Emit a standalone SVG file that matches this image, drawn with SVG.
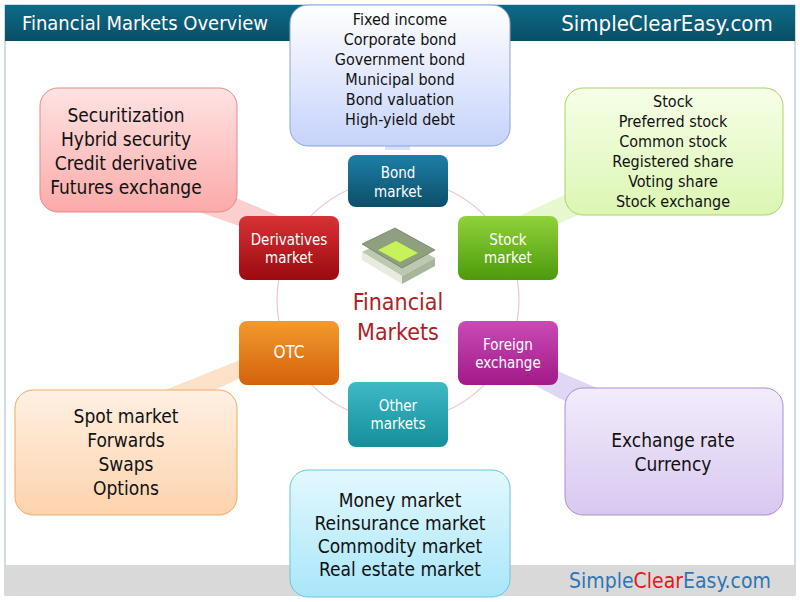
<svg xmlns="http://www.w3.org/2000/svg" width="800" height="602" viewBox="0 0 800 602">
<defs>
<style>
text{font-family:"DejaVu Sans Condensed","Liberation Sans",sans-serif;text-anchor:middle}
.hub{font-size:15px;fill:#fff}
.lst{font-size:16px;fill:#111}
.big{font-size:19px;fill:#111}
</style>
<linearGradient id="gBond" x1="0" y1="0" x2="0" y2="1"><stop offset="0" stop-color="#1d7fa6"/><stop offset="1" stop-color="#0c4e6a"/></linearGradient>
<linearGradient id="gDer" x1="0" y1="0" x2="0" y2="1"><stop offset="0" stop-color="#d83236"/><stop offset="1" stop-color="#9b0a0e"/></linearGradient>
<linearGradient id="gStk" x1="0" y1="0" x2="0" y2="1"><stop offset="0" stop-color="#8fd23a"/><stop offset="1" stop-color="#4d9a0c"/></linearGradient>
<linearGradient id="gOtc" x1="0" y1="0" x2="0" y2="1"><stop offset="0" stop-color="#f39a2e"/><stop offset="1" stop-color="#d4620a"/></linearGradient>
<linearGradient id="gFx" x1="0" y1="0" x2="0" y2="1"><stop offset="0" stop-color="#c94bb5"/><stop offset="1" stop-color="#a11a88"/></linearGradient>
<linearGradient id="gOth" x1="0" y1="0" x2="0" y2="1"><stop offset="0" stop-color="#3fb9c6"/><stop offset="1" stop-color="#168e9c"/></linearGradient>
<linearGradient id="lBond" x1="0" y1="0" x2="0" y2="1"><stop offset="0" stop-color="#fff"/><stop offset="1" stop-color="#c6d3fb"/></linearGradient>
<linearGradient id="lDer" x1="0" y1="0" x2="0" y2="1"><stop offset="0" stop-color="#ffe3e3"/><stop offset="1" stop-color="#fbaaa8"/></linearGradient>
<linearGradient id="lStk" x1="0" y1="0" x2="0" y2="1"><stop offset="0" stop-color="#f6ffe8"/><stop offset="1" stop-color="#dcf6b2"/></linearGradient>
<linearGradient id="lOtc" x1="0" y1="0" x2="0" y2="1"><stop offset="0" stop-color="#fff0e2"/><stop offset="1" stop-color="#fdd3ad"/></linearGradient>
<linearGradient id="lFx" x1="0" y1="0" x2="0" y2="1"><stop offset="0" stop-color="#f2ecfb"/><stop offset="1" stop-color="#d8c8f0"/></linearGradient>
<linearGradient id="lOth" x1="0" y1="0" x2="0" y2="1"><stop offset="0" stop-color="#e3f8fe"/><stop offset="1" stop-color="#a9e6fa"/></linearGradient>
<linearGradient id="hdr" x1="0" y1="0" x2="0" y2="1"><stop offset="0" stop-color="#0e6a87"/><stop offset="1" stop-color="#0a4e66"/></linearGradient>
</defs>
<rect width="800" height="602" fill="#fff"/>
<rect x="5" y="5" width="790" height="590" fill="#fff" stroke="#9fb8cf"/>
<rect x="5" y="5" width="790" height="36" fill="url(#hdr)"/>
<rect x="5" y="565" width="790" height="30" fill="#d9d9d9"/>
<text x="145" y="30" style="font-size:20px;fill:#fff">Financial Markets Overview</text>
<text x="667" y="31" style="font-size:22px;fill:#fff">SimpleClearEasy.com</text>
<text x="670" y="588" style="font-size:21px;fill:#2e75b6">Simple<tspan fill="#e8141b">Clear</tspan>Easy.com</text>

<g id="connectors" opacity="0.55">
<circle cx="398" cy="300" r="121" fill="none" stroke="#d9a0a0" stroke-width="1.2"/>
<polygon points="280,240 300,225 170,170 150,195" fill="#f7a8a8"/>
<polygon points="500,225 520,240 660,180 640,160" fill="#d5f2a8"/>
<polygon points="290,340 280,360 150,420 165,390" fill="#fbc89b"/>
<polygon points="520,355 505,370 640,440 660,415" fill="#c9b5ea"/>
<polygon points="385,150 410,150 410,135 385,135" fill="#b9c8fa"/>
</g>

<g id="list-bond"><rect x="290" y="5" width="220" height="141" rx="18" fill="url(#lBond)" stroke="#8ea3d8"/>
<text class="lst" x="400" y="25">Fixed income</text><text class="lst" x="400" y="45">Corporate bond</text><text class="lst" x="400" y="65">Government bond</text><text class="lst" x="400" y="85">Municipal bond</text><text class="lst" x="400" y="105">Bond valuation</text><text class="lst" x="400" y="125">High-yield debt</text></g>
<g id="list-der"><rect x="40" y="88" width="197" height="124" rx="18" fill="url(#lDer)" stroke="#e58a8a"/>
<text class="big" x="126" y="122">Securitization</text><text class="big" x="126" y="146">Hybrid security</text><text class="big" x="126" y="170">Credit derivative</text><text class="big" x="126" y="194">Futures exchange</text></g>
<g id="list-stock"><rect x="565" y="88" width="218" height="127" rx="18" fill="url(#lStk)" stroke="#a9d36a"/>
<text class="lst" x="673" y="107">Stock</text><text class="lst" x="673" y="127">Preferred stock</text><text class="lst" x="673" y="147">Common stock</text><text class="lst" x="673" y="167">Registered share</text><text class="lst" x="673" y="187">Voting share</text><text class="lst" x="673" y="207">Stock exchange</text></g>
<g id="list-otc"><rect x="15" y="390" width="222" height="125" rx="18" fill="url(#lOtc)" stroke="#f0a868"/>
<text class="big" x="126" y="423">Spot market</text><text class="big" x="126" y="447">Forwards</text><text class="big" x="126" y="471">Swaps</text><text class="big" x="126" y="495">Options</text></g>
<g id="list-fx"><rect x="565" y="388" width="218" height="127" rx="18" fill="url(#lFx)" stroke="#a98fd0"/>
<text class="big" x="673" y="447">Exchange rate</text><text class="big" x="673" y="471">Currency</text></g>
<g id="list-other"><rect x="290" y="470" width="220" height="127" rx="18" fill="url(#lOth)" stroke="#6cc3df"/>
<text class="big" x="400" y="507">Money market</text><text class="big" x="400" y="530">Reinsurance market</text><text class="big" x="400" y="553">Commodity market</text><text class="big" x="400" y="576">Real estate market</text></g>

<g id="hub-bond"><rect x="348" y="155" width="100" height="52" rx="8" fill="url(#gBond)"/><text class="hub" x="398" y="178">Bond</text><text class="hub" x="398" y="197">market</text></g>
<g id="hub-der"><rect x="239" y="216" width="100" height="64" rx="8" fill="url(#gDer)"/><text class="hub" x="289" y="245">Derivatives</text><text class="hub" x="289" y="263">market</text></g>
<g id="hub-stock"><rect x="458" y="216" width="100" height="64" rx="8" fill="url(#gStk)"/><text class="hub" x="508" y="245">Stock</text><text class="hub" x="508" y="263">market</text></g>
<g id="hub-otc"><rect x="239" y="321" width="100" height="64" rx="8" fill="url(#gOtc)"/><text class="hub" x="289" y="358" style="font-size:17px">OTC</text></g>
<g id="hub-fx"><rect x="458" y="321" width="100" height="64" rx="8" fill="url(#gFx)"/><text class="hub" x="508" y="350">Foreign</text><text class="hub" x="508" y="368">exchange</text></g>
<g id="hub-other"><rect x="348" y="382" width="100" height="65" rx="8" fill="url(#gOth)"/><text class="hub" x="398" y="411">Other</text><text class="hub" x="398" y="429">markets</text></g>

<g id="center">
<polygon points="362,252 395,236 435,258 402,276" fill="#bcc9b0"/>
<polygon points="362,252 402,276 402,284 362,260" fill="#e8ece0"/>
<polygon points="402,276 435,258 435,266 402,284" fill="#a7b59a"/>
<polygon points="362,244 395,228 435,250 402,268" fill="#8fa07f" stroke="#5d6b52" stroke-width="0.6"/>
<polygon points="378,250 396,241 418,253 400,262" fill="#c8f25a"/>
<text x="398" y="310" style="font-size:23px;fill:#b02025">Financial</text>
<text x="398" y="340" style="font-size:23px;fill:#b02025">Markets</text>
</g>
</svg>
